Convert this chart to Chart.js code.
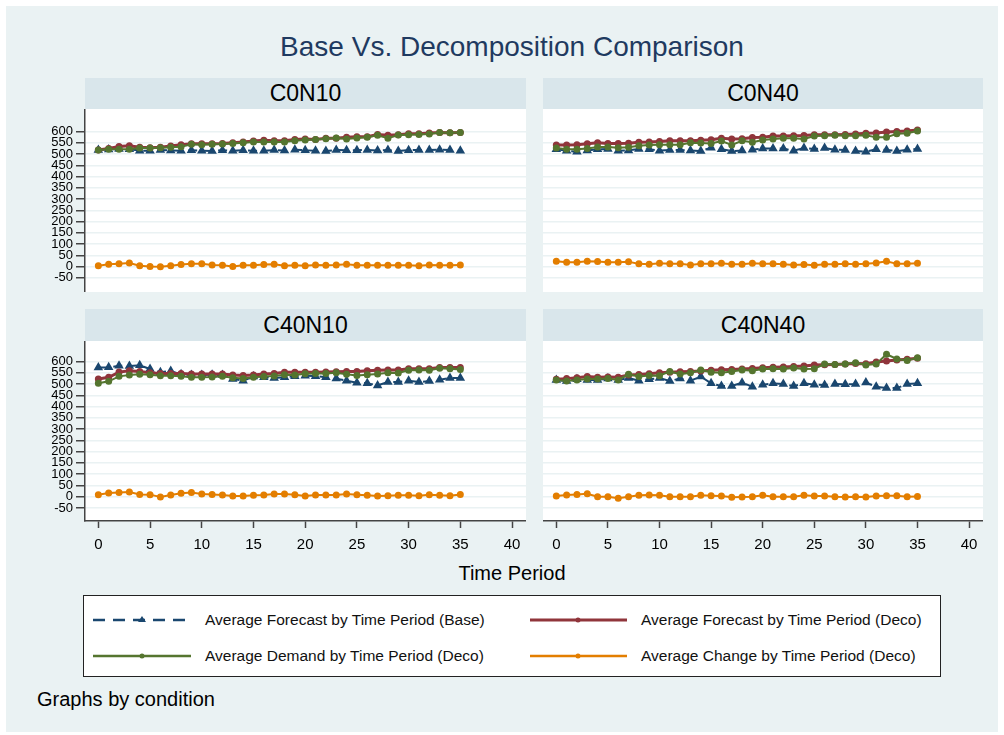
<!DOCTYPE html>
<html>
<head>
<meta charset="utf-8">
<script src="https://cdn.jsdelivr.net/npm/chart.js@4.4.0/dist/chart.umd.min.js"></script>
<style>
  body { margin: 0; background: #fff; font-family: "Liberation Sans", Arial, sans-serif; }
  #bg { position: absolute; left: 6px; top: 6px; width: 992px; height: 726px; background: #eaf2f3; }
  .head { position: absolute; background: #d9e6eb; text-align: center; font-size: 23px; color: #000; }
  canvas { position: absolute; }
  .txt { position: absolute; white-space: nowrap; }
  #legend { position: absolute; left: 83px; top: 595px; width: 856px; height: 80px; background: #fff; border: 1px solid #222; }
  .item { position: absolute; font-size: 15.5px; color: #111; line-height: 18px; }
  .item svg { position: absolute; top: 3px; }
</style>
</head>
<body>
<div id="bg"></div>
<div class="txt" style="left:0;width:1024px;top:31px;text-align:center;font-size:28px;color:#1f3a60;">Base Vs. Decomposition Comparison</div>

<div class="head" style="left:85px;top:78px;width:441px;height:31px;line-height:31px;">C0N10</div>
<div class="head" style="left:543px;top:78px;width:440px;height:31px;line-height:31px;">C0N40</div>
<div class="head" style="left:85px;top:309px;width:441px;height:32px;line-height:32px;">C40N10</div>
<div class="head" style="left:543px;top:309px;width:440px;height:32px;line-height:32px;">C40N40</div>

<canvas id="c1" width="506" height="183" style="left:20px;top:109px;"></canvas>
<canvas id="c2" width="440" height="183" style="left:543px;top:109px;"></canvas>
<canvas id="c3" width="506" height="215" style="left:20px;top:341px;"></canvas>
<canvas id="c4" width="440" height="215" style="left:543px;top:341px;"></canvas>

<div class="txt" style="left:0;width:1024px;top:562px;text-align:center;font-size:20px;color:#000;">Time Period</div>

<div id="legend">
  <div class="item" style="left:9px;top:15px;">
    <svg width="98" height="12"><line x1="0" y1="6" x2="98" y2="6" stroke="#1a476f" stroke-width="2.5" stroke-dasharray="12,8"/><polygon points="49,2 53,8 45,8" fill="#1a476f"/></svg>
    <span style="margin-left:112px;">Average Forecast by Time Period (Base)</span>
  </div>
  <div class="item" style="left:446px;top:15px;">
    <svg width="97" height="12"><line x1="0" y1="6" x2="97" y2="6" stroke="#90353b" stroke-width="3"/><circle cx="48" cy="6" r="2.5" fill="#90353b"/></svg>
    <span style="margin-left:111px;">Average Forecast by Time Period (Deco)</span>
  </div>
  <div class="item" style="left:9px;top:51px;">
    <svg width="98" height="12"><line x1="0" y1="6" x2="98" y2="6" stroke="#55752f" stroke-width="2.5"/><circle cx="49" cy="6" r="2.5" fill="#55752f"/></svg>
    <span style="margin-left:112px;">Average Demand by Time Period (Deco)</span>
  </div>
  <div class="item" style="left:446px;top:51px;">
    <svg width="97" height="12"><line x1="0" y1="6" x2="97" y2="6" stroke="#e37e00" stroke-width="2.5"/><circle cx="48" cy="6" r="2.5" fill="#e37e00"/></svg>
    <span style="margin-left:111px;">Average Change by Time Period (Deco)</span>
  </div>
</div>

<div class="txt" style="left:37px;top:688px;font-size:20px;color:#000;">Graphs by condition</div>

<script>
// time periods and axis ticks
const periods = [0,1,2,3,4,5,6,7,8,9,10,11,12,13,14,15,16,17,18,19,20,21,22,23,24,25,26,27,28,29,30,31,32,33,34,35];
const xTicks = [0,5,10,15,20,25,30,35,40];
const yTicks = [-50,0,50,100,150,200,250,300,350,400,450,500,550,600];

// C0N10
const baseC0N10   = [518,520,522,521,515,515,518,516,514,517,515,513,517,514,517,515,514,518,516,519,517,514,513,518,517,517,518,516,518,513,517,518,518,519,518,515];
const decoC0N10   = [518,525,533,537,530,528,530,536,541,546,546,546,547,550,553,558,561,559,559,564,567,565,570,570,574,577,577,587,583,586,590,590,593,596,595,596];
const demandC0N10 = [518,521,521,521,527,527,528,530,532,543,541,543,544,547,550,553,553,553,553,559,562,565,568,571,567,571,574,583,570,584,586,587,589,596,595,596];
const changeC0N10 = [4,10,13,16,4,0,-1,4,9,12,12,7,6,0,6,6,9,10,4,6,4,7,6,7,10,6,6,6,6,6,6,4,7,6,6,7];

// C0N40
const baseC0N40   = [521,515,510,516,521,522,515,516,522,521,515,518,518,516,513,528,521,513,516,519,525,524,524,515,527,522,527,519,518,513,510,521,518,513,519,522];
const decoC0N40   = [540,540,541,546,550,547,547,548,552,553,556,559,559,559,561,563,570,567,568,573,575,580,580,581,582,586,586,586,587,589,592,593,598,600,602,607];
const demandC0N40 = [527,521,521,525,531,531,528,530,537,540,541,541,541,550,549,547,558,540,559,552,562,567,570,570,567,580,581,583,581,581,583,574,574,590,592,602];
const changeC0N40 = [24,19,19,24,22,19,19,21,12,10,15,13,13,7,12,12,15,10,10,15,12,12,10,7,9,6,10,10,12,10,12,16,24,12,12,15];

// C40N10
const baseC40N10   = [573,574,581,580,583,567,552,558,543,540,540,541,540,522,515,533,530,527,530,535,537,535,530,524,515,506,504,494,509,509,515,509,513,519,527,527];
const decoC40N10   = [522,530,553,559,556,550,547,547,547,544,544,544,544,540,538,540,544,547,552,552,552,552,553,555,556,556,559,561,562,562,568,568,568,573,573,573];
const demandC40N10 = [503,512,534,540,543,541,537,537,534,530,530,531,534,528,525,530,533,536,541,540,546,547,547,550,543,538,541,544,550,549,561,562,561,570,568,565];
const changeC40N10 = [9,16,19,21,10,9,-1,7,15,18,12,10,7,3,3,6,7,12,12,9,3,7,7,7,12,9,6,3,4,6,6,4,9,6,4,10];

// C40N40
const baseC40N40   = [518,513,521,518,518,524,518,527,515,521,527,513,525,515,533,503,491,491,506,488,497,503,500,491,503,497,496,500,499,500,507,488,482,482,500,503];
const decoC40N40   = [521,524,528,533,530,531,530,540,542,546,550,552,555,556,558,561,563,565,567,569,572,574,576,578,580,584,586,587,589,591,590,598,602,607,610,614];
const demandC40N40 = [518,513,518,522,522,525,518,543,533,538,537,556,544,550,562,552,550,556,562,559,567,568,567,571,567,568,589,587,589,595,584,589,632,611,604,617];
const changeC40N40 = [3,7,10,13,0,0,-7,0,6,7,6,0,0,0,6,4,3,-3,-1,0,6,0,0,0,6,3,3,0,-1,0,-1,3,4,4,0,1];

const plotBg = {
  id: 'plotBg',
  beforeDraw(chart) {
    const { ctx, chartArea: a } = chart;
    ctx.save();
    ctx.fillStyle = '#ffffff';
    ctx.fillRect(a.left, a.top, a.right - a.left, a.bottom - a.top);
    ctx.restore();
  }
};

function pts(arr) {
  return periods.map((t, i) => ({ x: t, y: arr[i] }));
}

function makePanel(id, base, deco, demand, change, showY, showX, yMin, yMax) {
  const ctx = document.getElementById(id).getContext('2d');
  return new Chart(ctx, {
    type: 'line',
    data: {
      datasets: [
        {
          label: 'Average Forecast by Time Period (Base)',
          data: pts(base),
          borderColor: '#1a476f',
          backgroundColor: '#1a476f',
          borderWidth: 2,
          borderDash: [9, 6],
          pointStyle: 'triangle',
          pointRadius: 3.5,
          order: 4
        },
        {
          label: 'Average Forecast by Time Period (Deco)',
          data: pts(deco),
          borderColor: '#90353b',
          backgroundColor: '#90353b',
          borderWidth: 3,
          pointRadius: 2,
          order: 3
        },
        {
          label: 'Average Demand by Time Period (Deco)',
          data: pts(demand),
          borderColor: '#55752f',
          backgroundColor: '#55752f',
          borderWidth: 2,
          pointRadius: 2.5,
          order: 2
        },
        {
          label: 'Average Change by Time Period (Deco)',
          data: pts(change),
          borderColor: '#e37e00',
          backgroundColor: '#e37e00',
          borderWidth: 2,
          pointRadius: 2.5,
          order: 1
        }
      ]
    },
    options: {
      responsive: false,
      animation: false,
      devicePixelRatio: 1,
      layout: { padding: 0, autoPadding: false },
      plugins: { legend: { display: false }, tooltip: { enabled: false } },
      elements: { line: { tension: 0 }, point: { borderWidth: 0 } },
      scales: {
        x: {
          type: 'linear',
          min: -1.29,
          max: 41.35,
          display: showX,
          afterBuildTicks: s => { s.ticks = xTicks.map(v => ({ value: v })); },
          afterFit: s => { s.height = showX ? 35 : 0; s.paddingLeft = 0; s.paddingRight = 0; },
          grid: { drawOnChartArea: false, tickLength: 7, tickColor: '#444', tickWidth: 1.5 },
          border: { color: '#444', width: 1.5 },
          ticks: { color: '#000', font: { size: 15, family: 'Liberation Sans' }, padding: 8, maxRotation: 0, autoSkip: false }
        },
        y: {
          type: 'linear',
          min: yMin,
          max: yMax,
          afterBuildTicks: s => { s.ticks = yTicks.map(v => ({ value: v })); },
          afterFit: s => { s.width = showY ? 65 : 0; s.paddingTop = 0; s.paddingBottom = 0; },
          grid: { color: '#eaf2f3', lineWidth: 1.5, drawTicks: showY, tickLength: 9, tickColor: '#444', tickWidth: 1.5 },
          border: { display: showY, color: '#444', width: 1.5 },
          ticks: { display: showY, color: '#000', font: { size: 13, family: 'Liberation Sans' }, padding: 3, autoSkip: false }
        }
      }
    },
    plugins: [plotBg]
  });
}

makePanel('c1', baseC0N10, decoC0N10, demandC0N10, changeC0N10, true, false, -113, 700);
makePanel('c2', baseC0N40, decoC0N40, demandC0N40, changeC0N40, false, false, -113, 700);
makePanel('c3', baseC40N10, decoC40N10, demandC40N10, changeC40N10, true, true, -108, 691);
makePanel('c4', baseC40N40, decoC40N40, demandC40N40, changeC40N40, false, true, -108, 691);
</script>
</body>
</html>
